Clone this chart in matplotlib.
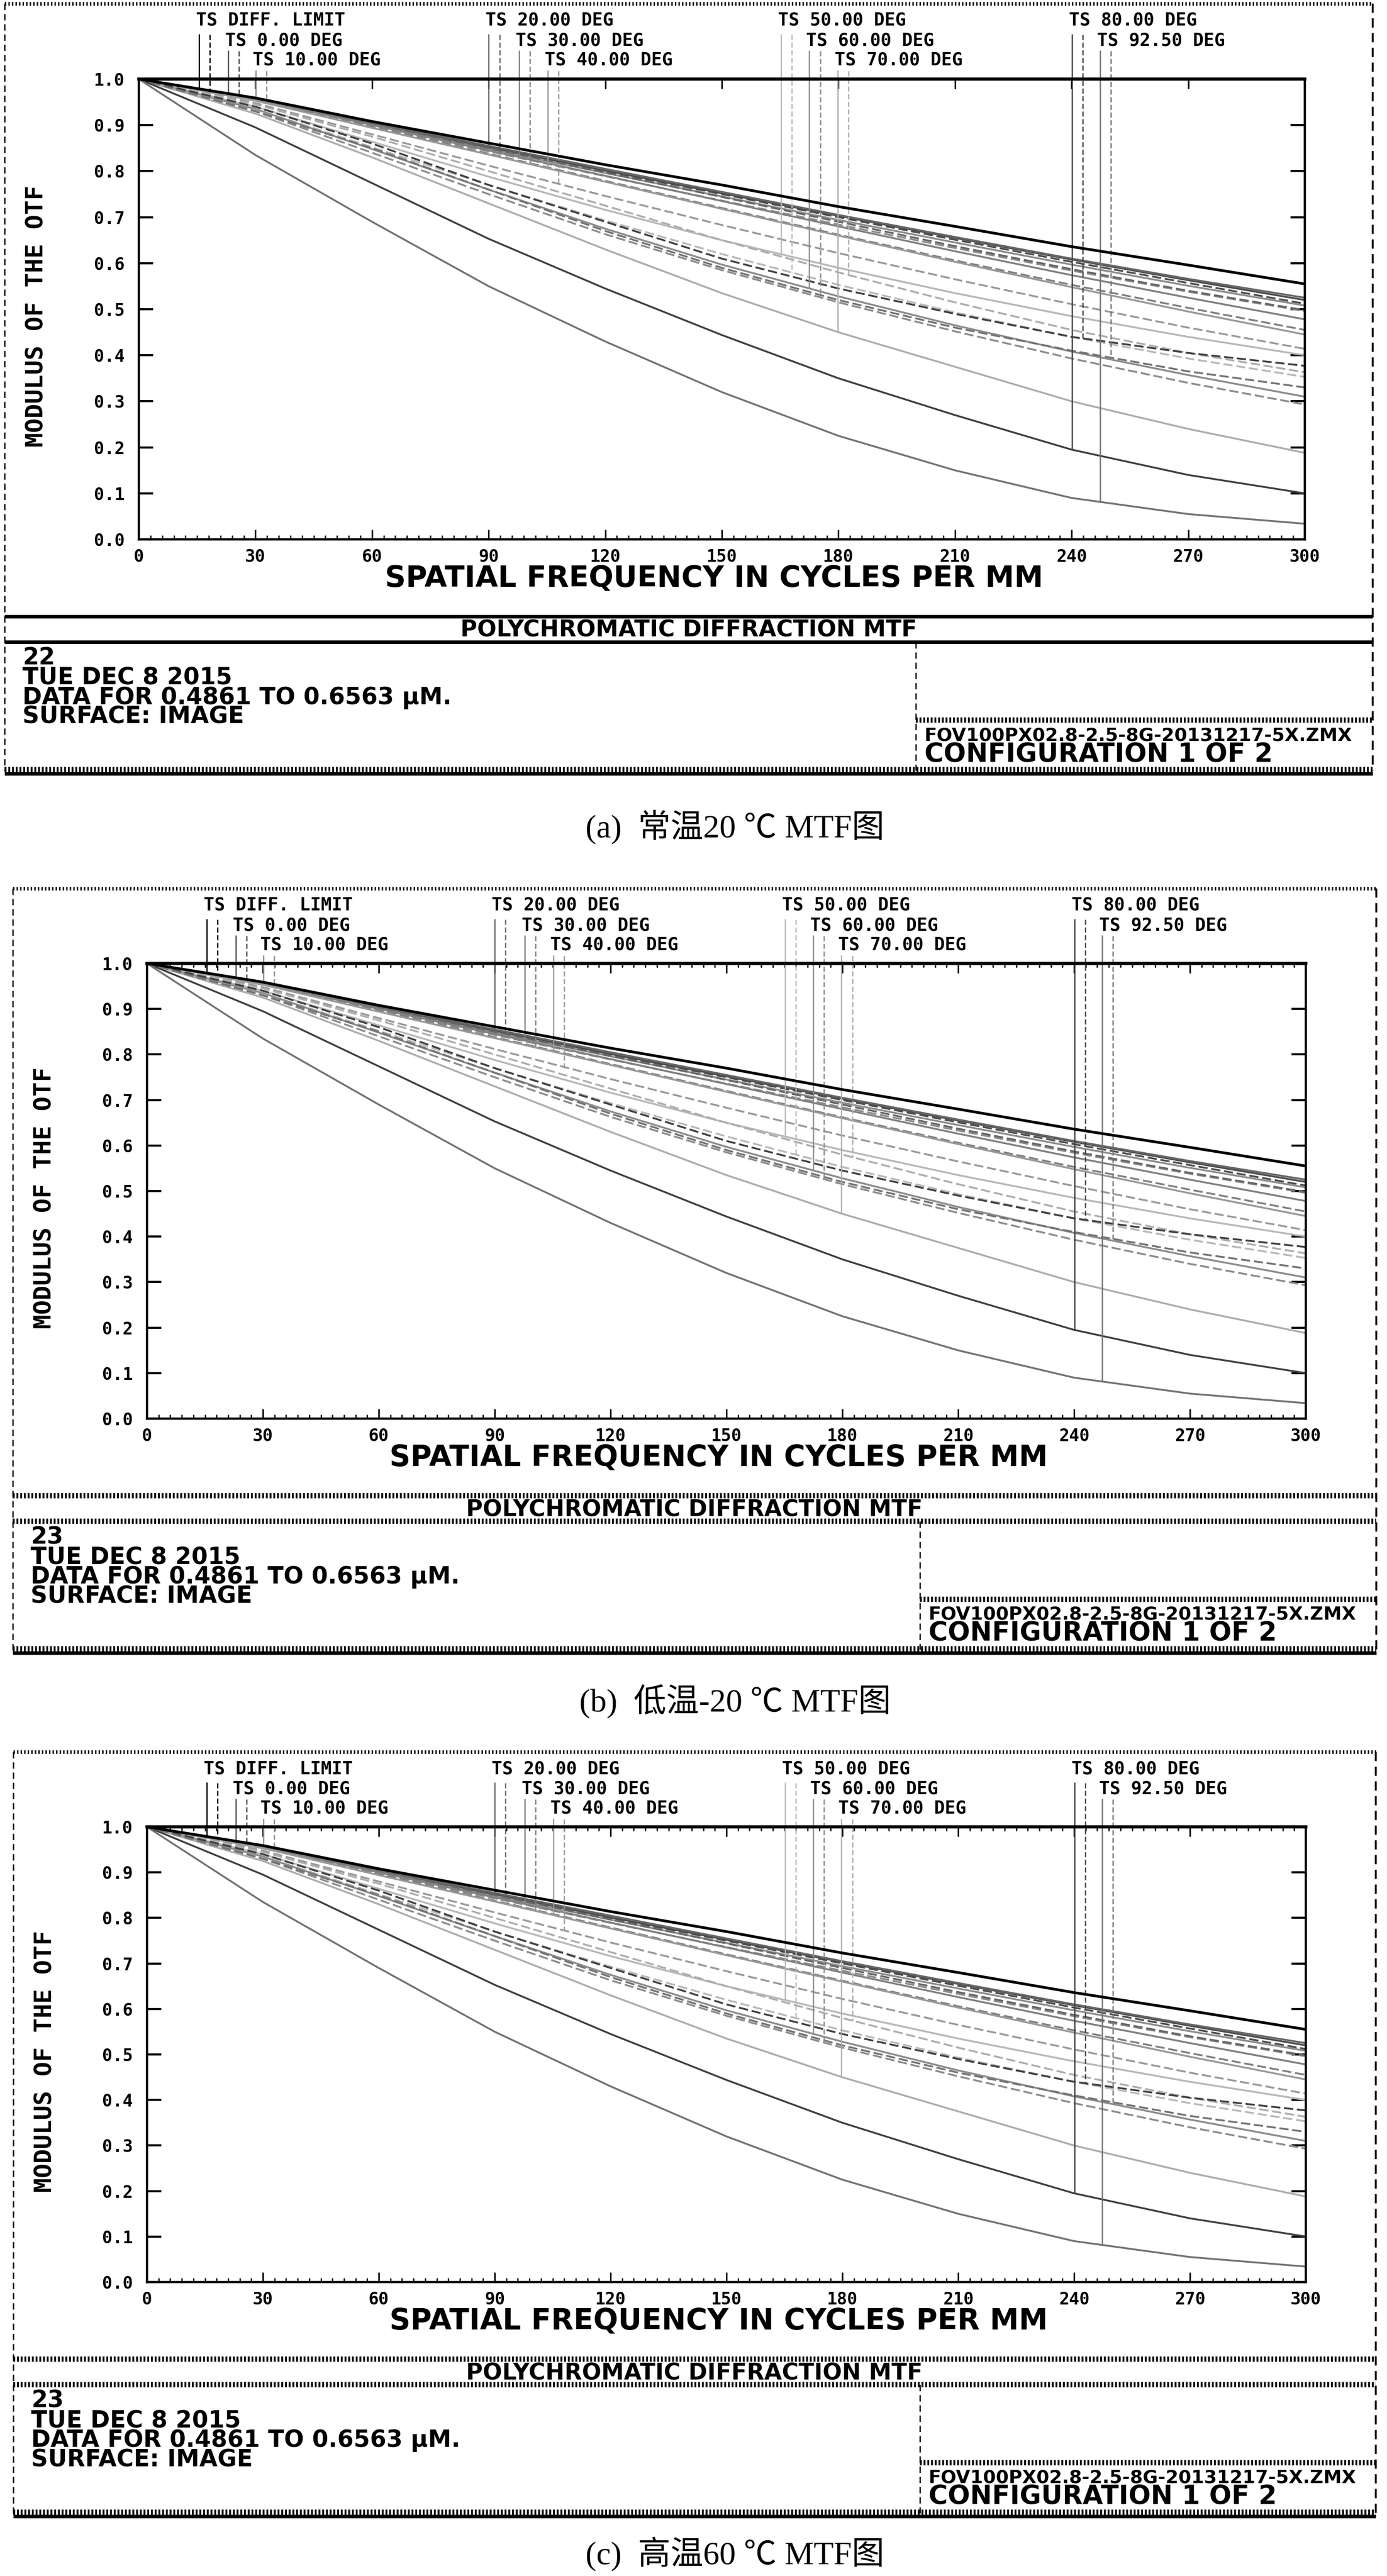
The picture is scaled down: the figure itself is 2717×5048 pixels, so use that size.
import numpy as np
import matplotlib.pyplot as plt
from matplotlib.ticker import MultipleLocator

W, H = 2717, 5048

# spatial frequency samples (cycles/mm) and MTF values
freq = [0, 30, 60, 90, 120, 150, 180, 210, 240, 270, 300]
x_ticks = [0, 30, 60, 90, 120, 150, 180, 210, 240, 270, 300]
y_ticks = [0.0, 0.1, 0.2, 0.3, 0.4, 0.5, 0.6, 0.7, 0.8, 0.9, 1.0]

diff_limit = [1.0, 0.959, 0.908, 0.861, 0.814, 0.770, 0.723, 0.680, 0.636, 0.596, 0.555]
t_00 = [1.0, 0.957, 0.903, 0.852, 0.801, 0.752, 0.703, 0.655, 0.608, 0.563, 0.520]
s_00 = [1.0, 0.957, 0.903, 0.851, 0.800, 0.750, 0.700, 0.651, 0.603, 0.557, 0.512]
t_10 = [1.0, 0.956, 0.901, 0.848, 0.796, 0.745, 0.694, 0.645, 0.597, 0.551, 0.508]
s_10 = [1.0, 0.955, 0.898, 0.843, 0.789, 0.736, 0.684, 0.633, 0.584, 0.538, 0.496]
t_20 = [1.0, 0.958, 0.905, 0.855, 0.805, 0.755, 0.705, 0.657, 0.610, 0.566, 0.525]
s_20 = [1.0, 0.957, 0.902, 0.850, 0.797, 0.744, 0.690, 0.637, 0.587, 0.540, 0.498]
t_30 = [1.0, 0.956, 0.900, 0.845, 0.790, 0.735, 0.680, 0.626, 0.574, 0.525, 0.478]
s_30 = [1.0, 0.955, 0.897, 0.838, 0.779, 0.720, 0.662, 0.606, 0.553, 0.503, 0.455]
t_40 = [1.0, 0.953, 0.894, 0.836, 0.777, 0.718, 0.660, 0.603, 0.548, 0.495, 0.445]
s_40 = [1.0, 0.948, 0.880, 0.812, 0.746, 0.683, 0.622, 0.565, 0.511, 0.460, 0.414]
t_50 = [1.0, 0.940, 0.864, 0.788, 0.716, 0.650, 0.590, 0.535, 0.485, 0.440, 0.400]
s_50 = [1.0, 0.935, 0.852, 0.770, 0.693, 0.620, 0.553, 0.493, 0.440, 0.393, 0.353]
t_60 = [1.0, 0.935, 0.848, 0.760, 0.675, 0.597, 0.528, 0.465, 0.408, 0.357, 0.310]
s_60 = [1.0, 0.930, 0.840, 0.750, 0.663, 0.585, 0.515, 0.452, 0.393, 0.340, 0.293]
t_70 = [1.0, 0.925, 0.830, 0.730, 0.630, 0.535, 0.450, 0.375, 0.300, 0.240, 0.188]
s_70 = [1.0, 0.945, 0.875, 0.800, 0.725, 0.650, 0.580, 0.515, 0.455, 0.405, 0.363]
t_80 = [1.0, 0.895, 0.774, 0.653, 0.545, 0.444, 0.350, 0.270, 0.195, 0.140, 0.100]
s_80 = [1.0, 0.940, 0.860, 0.770, 0.690, 0.610, 0.545, 0.490, 0.440, 0.405, 0.377]
t_92 = [1.0, 0.835, 0.690, 0.550, 0.430, 0.320, 0.225, 0.150, 0.090, 0.055, 0.034]
s_92 = [1.0, 0.930, 0.850, 0.760, 0.670, 0.590, 0.520, 0.460, 0.410, 0.365, 0.330]

legend_names = ['TS DIFF. LIMIT', 'TS 0.00 DEG', 'TS 10.00 DEG', 'TS 20.00 DEG',
                'TS 30.00 DEG', 'TS 40.00 DEG', 'TS 50.00 DEG', 'TS 60.00 DEG',
                'TS 70.00 DEG', 'TS 80.00 DEG', 'TS 92.50 DEG']
legend_freq = [15.5, 23.0, 30.1, 90.0, 97.8, 105.2, 165.2, 172.5, 179.8, 240.1, 247.3]
legend_greys = ['black', '0.30', '0.55', '0.40', '0.50', '0.60', '0.72', '0.55', '0.68', '0.25', '0.45']

run_ids = ['22', '23', '23']
info_lines = ['TUE DEC 8 2015', 'DATA FOR 0.4861 TO 0.6563 \u00b5M.', 'SURFACE: IMAGE']
file_name = 'FOV100PX02.8-2.5-8G-20131217-5X.ZMX'
config_text = 'CONFIGURATION 1 OF 2'
captions = ['(a)  常温20 ℃ MTF图', '(b)  低温-20 ℃ MTF图', '(c)  高温60 ℃ MTF图']

field_curves = [(diff_limit, diff_limit), (t_00, s_00), (t_10, s_10), (t_20, s_20),
                (t_30, s_30), (t_40, s_40), (t_50, s_50), (t_60, s_60),
                (t_70, s_70), (t_80, s_80), (t_92, s_92)]

# pixel layout of the three Zemax windows
panels = [
    dict(ft=7, fl=9, fr=2689, al=272, ar=2556, at=155, ab=1057, div=1794, cap=1622, hatch=False),
    dict(ft=1741, fl=25, fr=2696, al=288, ar=2558, at=1888, ab=2780, div=1802, cap=3334, hatch=True),
    dict(ft=3433, fl=26, fr=2695, al=288, ar=2558, at=3580, ab=4472, div=1802, cap=5006, hatch=True),
]
row_base = [43, 82, 120]
row_line = [61, 93, 132]

plt.rcParams['font.family'] = 'DejaVu Sans Mono'
plt.rcParams['font.weight'] = 'bold'

fig = plt.figure(figsize=(W / 100, H / 100), dpi=100)
bg = fig.add_axes([0, 0, 1, 1])
bg.set_xlim(0, W)
bg.set_ylim(H, 0)
bg.axis('off')

HATCH = (0, (0.35, 0.35))


def hline(y, x0, x1, kind):
    if kind == 'hatch':
        bg.plot([x0, x1], [y, y], color='black', lw=7.5, ls=HATCH, solid_capstyle='butt')
    elif kind == 'dots':
        bg.plot([x0, x1], [y, y], color='black', lw=5, ls=(0, (0.4, 0.6)))
    else:
        bg.plot([x0, x1], [y, y], color='black', lw=5, solid_capstyle='butt')


def vline(x, y0, y1, lw=1.8):
    bg.plot([x, x], [y0, y1], color='black', lw=lw, ls=(0, (5, 3)))


for k, p in enumerate(panels):
    ft, fl, fr, al, ar, at, ab = p['ft'], p['fl'], p['fr'], p['al'], p['ar'], p['at'], p['ab']
    fb = ab + 453
    sep = 'hatch' if p['hatch'] else 'solid'

    # window frame and boxes
    hline(ft, fl, fr, 'dots')
    vline(fl, ft, fb)
    vline(fr, ft, fb, lw=2.6)
    hline(ab + 151, fl, fr, sep)
    hline(ab + 201, fl, fr, sep)
    vline(p['div'], ab + 201, fb)
    hline(ab + 354, p['div'], fr, 'hatch')
    hline(fb - 2, fl, fr, 'hatch')
    hline(fb + 6, fl, fr, 'solid')

    ax = fig.add_axes([al / W, 1 - ab / H, (ar - al) / W, (ab - at) / H])
    ax.set_facecolor('none')
    ax.set_xlim(0, 300)
    ax.set_ylim(0, 1)

    def to_data(ypx):
        return (ab - ypx) / (ab - at)

    for (tv, sv), grey in zip(field_curves[1:], legend_greys[1:]):
        ax.plot(freq, tv, color=grey, lw=2.6, zorder=2)
        ax.plot(freq, sv, color=grey, lw=2.6, ls=(0, (5, 2)), zorder=2)
    ax.plot(freq, diff_limit, color='black', lw=3.8, zorder=3)

    # legend labels with their drop lines
    for i, name in enumerate(legend_names):
        row = i % 3
        xt = legend_freq[i]
        xs = xt + 2.8
        tv, sv = field_curves[i]
        grey = legend_greys[i]
        y0 = to_data(ft + row_line[row])
        ax.plot([xt, xt], [y0, np.interp(xt, freq, tv)], color=grey, lw=1.8, clip_on=False)
        ax.plot([xs, xs], [y0, np.interp(xs, freq, sv)], color=grey, lw=1.8,
                ls=(0, (4, 2)), clip_on=False)
        ax.text(xt - 0.8, to_data(ft + row_base[row]), name, fontsize=25,
                ha='left', va='baseline', clip_on=False)

    for side in ['left', 'bottom', 'right']:
        ax.spines[side].set_linewidth(3.2)
    ax.spines['top'].set_linewidth(4.5)
    ax.set_xticks(x_ticks)
    ax.set_xticklabels([str(v) for v in x_ticks])
    ax.set_yticks(y_ticks)
    ax.set_yticklabels([f'{v:.1f}' for v in y_ticks])
    ax.xaxis.set_minor_locator(MultipleLocator(3))
    ax.tick_params(axis='x', which='major', direction='in', length=14, width=2.2,
                   top=True, bottom=True, labelsize=24, pad=13)
    ax.tick_params(axis='x', which='minor', direction='in', length=6, width=1.8,
                   top=p['hatch'], bottom=True)
    ax.tick_params(axis='y', which='major', direction='in', length=20, width=3,
                   left=True, right=True, labelsize=24, pad=20)

    # axis titles and the text block under the plot
    bg.text((al + ar) / 2 - 15, ab + 93, 'SPATIAL FREQUENCY IN CYCLES PER MM',
            family='DejaVu Sans', fontsize=41, ha='center', va='baseline')
    bg.text(fl + 63, (at + ab) / 2 + 14, 'MODULUS OF THE OTF', rotation=90,
            fontsize=34, ha='center', va='center')
    bg.text((fl + fr) / 2, ab + 191, 'POLYCHROMATIC DIFFRACTION MTF',
            family='DejaVu Sans', fontsize=32, ha='center', va='baseline')
    for line, base in zip([run_ids[k]] + info_lines, [245, 285, 323, 361]):
        bg.text(fl + 35, ab + base, line, family='DejaVu Sans', fontsize=33,
                ha='left', va='baseline')
    bg.text(p['div'] + 17, ab + 394, file_name, family='DejaVu Sans', fontsize=26,
            ha='left', va='baseline')
    bg.text(p['div'] + 17, ab + 436, config_text, family='DejaVu Sans', fontsize=37,
            ha='left', va='baseline')

    bg.text(1440, p['cap'], captions[k], family=['Liberation Serif', 'Noto Sans CJK SC'],
            fontweight='normal', fontsize=46, ha='center', va='center')

fig.savefig('out.png', dpi=100)
